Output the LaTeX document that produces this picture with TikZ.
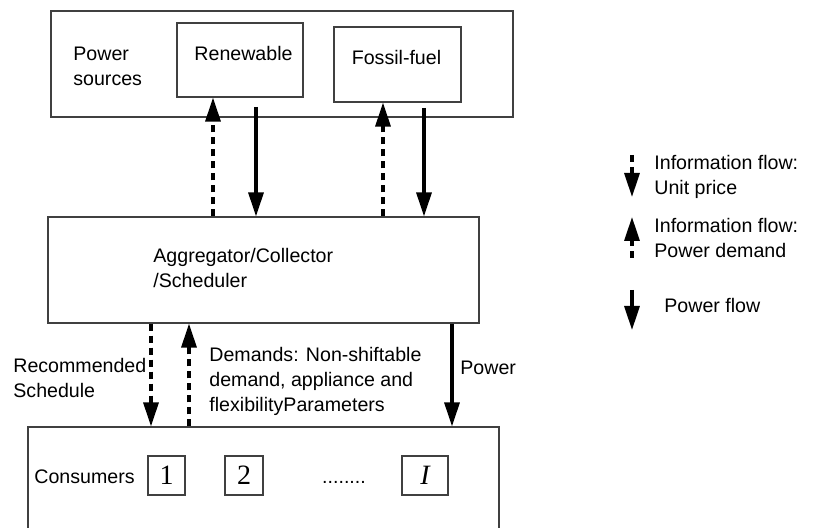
\documentclass[tikz,border=0pt]{standalone}
\usepackage{fontspec}
\setmainfont{Liberation Sans}
\newfontfamily\tnr{Liberation Serif}
\usetikzlibrary{arrows.meta}
\begin{document}
\begin{tikzpicture}[x=0.5pt,y=-0.5pt,
  box/.style={draw=black!75, line width=0.6pt, inner sep=0},
  lbl/.style={font=\fontsize{9.8}{12.5}\selectfont, inner sep=0, align=left},
  num/.style={box, font=\tnr\fontsize{14}{14}\selectfont, minimum height=19.5pt},
  pw/.style={line width=1.65pt, -{Triangle[length=12pt,width=7.5pt]}},
  info/.style={pw, dash pattern=on 3.5pt off 2.5pt}]
\useasboundingbox (0,0) rectangle (820,528);
% boxes
\node[box, minimum width=231pt, minimum height=53pt] (ps) at (282,64) {};
\node[box, minimum width=63pt, minimum height=37pt] (ren) at (240,60) {};
\node[box, minimum width=63.5pt, minimum height=37.5pt] (fos) at (397.5,64.5) {};
\node[box, minimum width=215.5pt, minimum height=53pt] (agg) at (263.5,270) {};
\node[box, minimum width=235.5pt, minimum height=75pt] (cons) at (263.5,502) {};
\node[num, minimum width=18.5pt] (c1) at (166.5,475.5) {1};
\node[num, minimum width=19pt] (c2) at (244,475.5) {2};
\node[num, minimum width=23pt] (cI) at (425,475.5) {\itshape I};
% texts (multi-line nodes anchored at the baseline of their last line)
\node[lbl, anchor=base west] (tps) at (73,86) {Power\\sources};
\node[lbl, anchor=base] (tren) at (243.5,61) {Renewable};
\node[lbl, anchor=base] (tfos) at (396.5,65) {Fossil-fuel};
\node[lbl, anchor=base west] (tagg) at (153,288) {Aggregator/Collector\\/Scheduler};
\node[lbl, anchor=base west] (trec) at (13,398) {Recommended\\Schedule};
\node[lbl, anchor=base west] (tdem) at (209,412) {Demands: Non-shiftable\\demand, appliance and\\flexibilityParameters};
\node[lbl, anchor=base west] (tpow) at (460,375) {Power};
\node[lbl, anchor=base west] (tcons) at (34,484) {Consumers};
\node[lbl, anchor=base] (tdots) at (344,484) {........};
% connectors top
\coordinate (r0) at (256,107);
\coordinate (f0) at (424,108);
\draw[info] (agg.north -| 213,0) -- (ren.south -| 213,0);
\draw[pw] (r0) -- (agg.north -| 256,0);
\draw[info] (agg.north -| 383,0) -- (fos.south -| 383,0);
\draw[pw] (f0) -- (agg.north -| 424,0);
% connectors bottom
\draw[info] (agg.south -| 151,0) -- (cons.north -| 151,0);
\draw[info] (cons.north -| 189,0) -- (agg.south -| 189,0);
\draw[pw] (agg.south -| 452,0) -- (cons.north -| 452,0);
% legend
\coordinate (l1a) at (632,155); \coordinate (l1b) at (632,197);
\coordinate (l2a) at (632,258); \coordinate (l2b) at (632,217);
\coordinate (l3a) at (632,290); \coordinate (l3b) at (632,330);
\draw[info] (l1a) -- (l1b);
\draw[info] (l2a) -- (l2b);
\draw[pw] (l3a) -- (l3b);
\node[lbl, anchor=base west] (tl1) at (654,195) {Information flow:\\Unit price};
\node[lbl, anchor=base west] (tl2) at (654,258) {Information flow:\\Power demand};
\node[lbl, anchor=base west] (tl3) at (664,313) {Power flow};
\end{tikzpicture}
\end{document}
